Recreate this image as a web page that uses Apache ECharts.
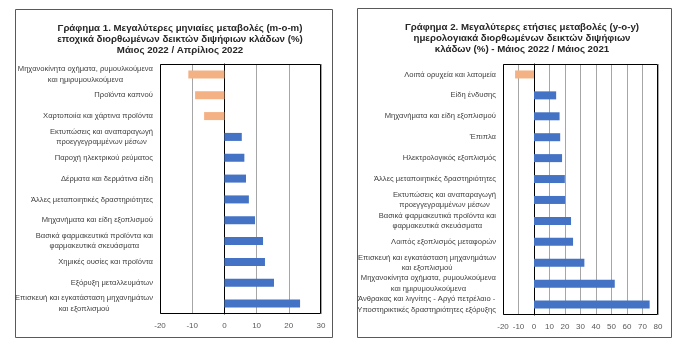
<!DOCTYPE html>
<html>
<head>
<meta charset="utf-8">
<script src="https://cdn.jsdelivr.net/npm/echarts@6/dist/echarts.min.js"></script>
<style>
html,body{margin:0;padding:0;background:#fff;}
#c{width:687px;height:360px;}
</style>
</head>
<body>
<div id="c"></div>
<script>
// ---- Data ----
var leftTitle = 'Γράφημα 1. Μεγαλύτερες μηνιαίες μεταβολές (m-o-m)\nεποχικά διορθωμένων δεικτών διψήφιων κλάδων (%)\nΜάιος 2022 / Απρίλιος 2022';
var leftCategories = [
  'Μηχανοκίνητα οχήματα, ρυμουλκούμενα\nκαι ημιρυμουλκούμενα',
  'Προϊόντα καπνού',
  'Χαρτοποιία και χάρτινα προϊόντα',
  'Εκτυπώσεις και αναπαραγωγή\nπροεγγεγραμμένων μέσων',
  'Παροχή ηλεκτρικού ρεύματος',
  'Δέρματα και δερμάτινα είδη',
  'Άλλες μεταποιητικές δραστηριότητες',
  'Μηχανήματα και είδη εξοπλισμού',
  'Βασικά φαρμακευτικά προϊόντα και\nφαρμακευτικά σκευάσματα',
  'Χημικές ουσίες και προϊόντα',
  'Εξόρυξη μεταλλευμάτων',
  'Επισκευή και εγκατάσταση μηχανημάτων\nκαι εξοπλισμού'
];
var leftValues = [-11.2, -9.1, -6.3, 5.4, 6.2, 6.7, 7.6, 9.5, 12.0, 12.6, 15.4, 23.5];

var rightTitle = 'Γράφημα 2. Μεγαλύτερες ετήσιες μεταβολές (y-o-y)\nημερολογιακά διορθωμένων δεικτών διψήφιων\nκλάδων (%) - Μάιος 2022 / Μάιος 2021';
var rightCategories = [
  'Λοιπά ορυχεία και λατομεία',
  'Είδη ένδυσης',
  'Μηχανήματα και είδη εξοπλισμού',
  'Έπιπλα',
  'Ηλεκτρολογικός εξοπλισμός',
  'Άλλες μεταποιητικές δραστηριότητες',
  'Εκτυπώσεις και αναπαραγωγή\nπροεγγεγραμμένων μέσων',
  'Βασικά φαρμακευτικά προϊόντα και\nφαρμακευτικά σκευάσματα',
  'Λοιπός εξοπλισμός μεταφορών',
  'Επισκευή και εγκατάσταση μηχανημάτων\nκαι εξοπλισμού',
  'Μηχανοκίνητα οχήματα, ρυμουλκούμενα\nκαι ημιρυμουλκούμενα',
  'Άνθρακας και λιγνίτης - Αργό πετρέλαιο -\nΥποστηρικτικές δραστηριότητες εξόρυξης'
];
var rightValues = [-12.2, 14.3, 16.5, 16.9, 18.1, 19.9, 20.1, 23.9, 25.2, 32.5, 52.1, 74.6];

var leftAxis = {min: -20, max: 30, interval: 10};
var rightAxis = {min: -20, max: 80, interval: 10};

// ---- Styles ----
var BLUE = '#4472C4', ORANGE = '#F4B183';
var FONT = 'Liberation Sans';
var grids = [
  {left: 160, right: 366, top: 64, bottom: 46},
  {left: 503, right: 29, top: 64, bottom: 45}
];

function toBars(vals) {
  return vals.map(function (v) {
    return {value: v, itemStyle: {color: v < 0 ? ORANGE : BLUE}};
  });
}
function labelFmt(s) {
  return s.split('\n').map(function (l) { return '{a|' + l + '}'; }).join('\n');
}
function catAxis(idx, cats) {
  return {
    type: 'category', gridIndex: idx, data: cats, inverse: true,
    axisLine: {show: true, onZero: true, lineStyle: {color: '#000', width: 1}},
    axisTick: {show: false},
    axisLabel: {
      margin: 7, formatter: labelFmt,
      rich: {a: {align: 'center', fontSize: 7.6, lineHeight: 10.5, color: '#404040', fontFamily: FONT}}
    }
  };
}
function valAxis(idx, ax) {
  return {
    type: 'value', gridIndex: idx, min: ax.min, max: ax.max, interval: ax.interval,
    axisLine: {show: false}, axisTick: {show: false},
    splitLine: {show: true, lineStyle: {color: '#a6a6a6', width: 1}},
    axisLabel: {margin: 8, fontSize: 8, color: '#595959', fontFamily: FONT}
  };
}
function frame(g) {
  return {type: 'rect', z: 10, silent: true,
    shape: {x: g.left + 0.5, y: g.top + 0.5, width: 687 - g.left - g.right - 1, height: 360 - g.top - g.bottom - 1},
    style: {fill: 'none', stroke: '#000', lineWidth: 1}};
}

var chart = echarts.init(document.getElementById('c'), null, {renderer: 'canvas'});
chart.setOption({
  backgroundColor: '#fff',
  animation: false,
  title: [
    {text: leftTitle, left: 175, top: 18, textAlign: 'center',
     textStyle: {fontSize: 9.7, fontWeight: 'bold', lineHeight: 10.9, color: '#262626', fontFamily: FONT}},
    {text: rightTitle, left: 517, top: 17, textAlign: 'center',
     textStyle: {fontSize: 9.7, fontWeight: 'bold', lineHeight: 10.9, color: '#262626', fontFamily: FONT}}
  ],
  graphic: [
    {type: 'rect', shape: {x: 15.5, y: 9.5, width: 317, height: 328}, style: {fill: 'none', stroke: '#595959', lineWidth: 1}, z: -1},
    {type: 'rect', shape: {x: 357.5, y: 8.5, width: 314, height: 329}, style: {fill: 'none', stroke: '#595959', lineWidth: 1}, z: -1},
    frame(grids[0]), frame(grids[1])
  ],
  grid: grids,
  xAxis: [valAxis(0, leftAxis), valAxis(1, rightAxis)],
  yAxis: [catAxis(0, leftCategories), catAxis(1, rightCategories)],
  series: [
    {type: 'bar', xAxisIndex: 0, yAxisIndex: 0, data: toBars(leftValues), barWidth: 8},
    {type: 'bar', xAxisIndex: 1, yAxisIndex: 1, data: toBars(rightValues), barWidth: 8}
  ]
});
</script>
</body>
</html>
